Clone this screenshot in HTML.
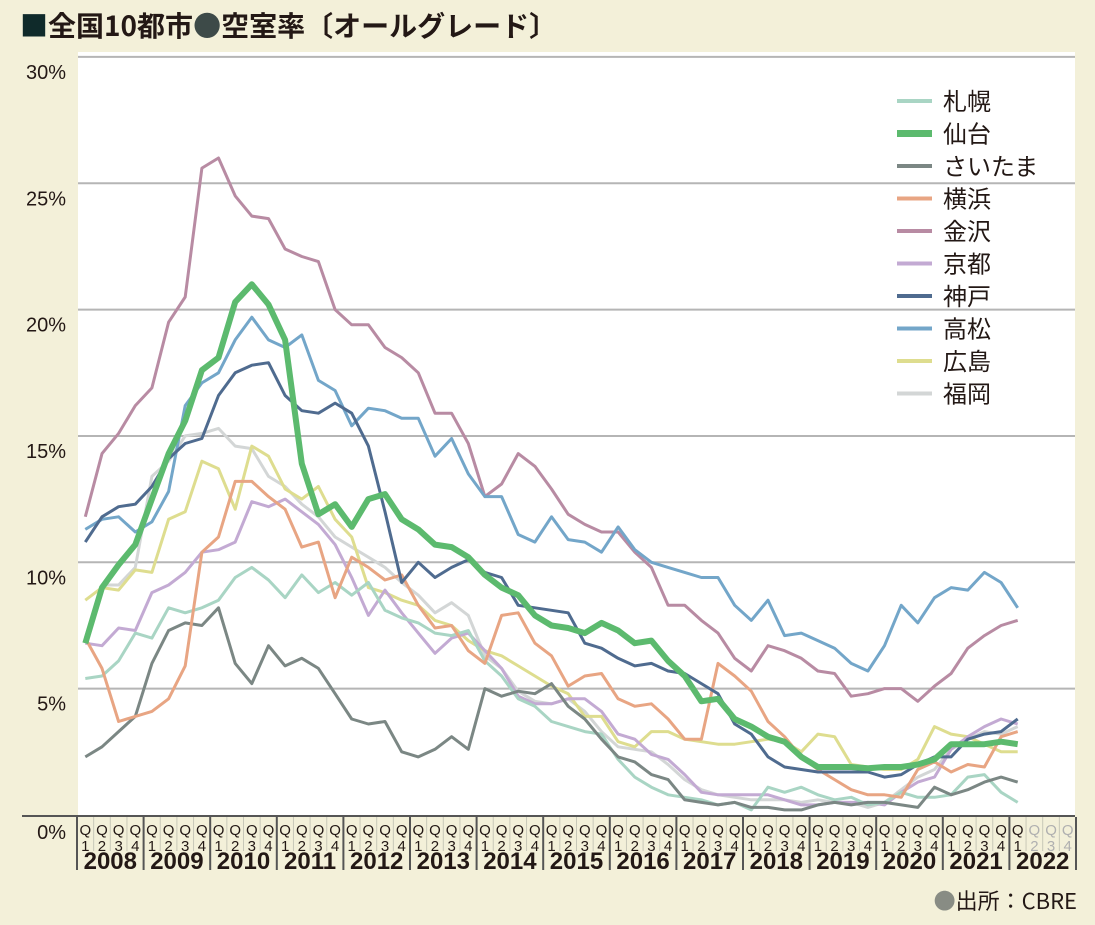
<!DOCTYPE html>
<html><head><meta charset="utf-8">
<style>
body{margin:0;background:#f3f0d9;font-family:"Liberation Sans","Noto Sans CJK JP",sans-serif;}
#wrap{position:relative;width:1095px;height:925px;overflow:hidden;background:#f3f0d9;}
</style></head>
<body>
<div id="wrap">
<svg id="chart" width="1095" height="925" xmlns="http://www.w3.org/2000/svg"></svg>
</div>
<script>
const years=["2008","2009","2010","2011","2012","2013","2014","2015","2016","2017","2018","2019","2020","2021","2022"];
const yTicks=[0,5,10,15,20,25,30];
const cityNames=["札幌","仙台","さいたま","横浜","金沢","京都","神戸","高松","広島","福岡"];
const sapporo=[5.4,5.5,6.1,7.2,7.0,8.2,8.0,8.2,8.5,9.4,9.8,9.3,8.6,9.5,8.8,9.2,8.7,9.2,8.1,7.8,7.6,7.2,7.1,7.3,6.1,5.5,4.6,4.3,3.7,3.5,3.3,3.2,2.2,1.5,1.1,0.8,0.7,0.6,0.4,0.5,0.2,1.1,0.9,1.1,0.8,0.6,0.7,0.4,0.5,0.9,0.7,0.7,0.8,1.5,1.6,0.9,0.5];
const sendai=[6.8,9.0,9.9,10.7,12.5,14.3,15.6,17.6,18.1,20.3,21.0,20.2,18.8,13.9,11.9,12.3,11.4,12.5,12.7,11.7,11.3,10.7,10.6,10.2,9.5,9.0,8.7,7.9,7.5,7.4,7.2,7.6,7.3,6.8,6.9,6.1,5.5,4.5,4.6,3.8,3.5,3.1,2.9,2.3,1.9,1.9,1.9,1.85,1.9,1.9,2.0,2.2,2.8,2.8,2.8,2.9,2.8];
const saitama=[2.3,2.7,3.3,3.9,6.0,7.3,7.6,7.5,8.2,6.0,5.2,6.7,5.9,6.2,5.8,4.8,3.8,3.6,3.7,2.5,2.3,2.6,3.1,2.6,5.0,4.7,4.9,4.8,5.2,4.3,3.8,3.0,2.3,2.1,1.6,1.4,0.6,0.5,0.4,0.5,0.3,0.3,0.2,0.2,0.4,0.5,0.4,0.5,0.5,0.4,0.3,1.1,0.8,1.0,1.3,1.5,1.3];
const yokohama=[7.0,5.8,3.7,3.9,4.1,4.6,5.9,10.4,11.0,13.2,13.2,12.6,12.1,10.6,10.8,8.6,10.2,9.8,9.3,9.5,8.3,7.4,7.5,6.5,6.0,7.9,8.0,6.8,6.3,5.1,5.5,5.6,4.6,4.3,4.4,3.8,3.0,3.0,6.0,5.5,4.9,3.7,3.1,2.3,1.8,1.4,1.0,0.8,0.8,0.7,1.8,2.1,1.7,2.0,1.9,3.1,3.3];
const kanazawa=[11.8,14.3,15.1,16.2,16.9,19.5,20.5,25.6,26.0,24.5,23.7,23.6,22.4,22.1,21.9,20.0,19.4,19.4,18.5,18.1,17.5,15.9,15.9,14.7,12.6,13.1,14.3,13.8,12.9,11.9,11.5,11.2,11.2,10.4,9.8,8.3,8.3,7.7,7.2,6.2,5.7,6.7,6.5,6.2,5.7,5.6,4.7,4.8,5.0,5.0,4.5,5.1,5.6,6.6,7.1,7.5,7.7];
const kyoto=[6.8,6.7,7.4,7.3,8.8,9.1,9.6,10.4,10.5,10.8,12.4,12.2,12.5,12.0,11.5,10.7,9.4,7.9,8.9,8.0,7.2,6.4,7.0,7.2,6.5,5.8,4.7,4.4,4.4,4.6,4.6,4.1,3.2,3.0,2.4,2.2,1.6,0.9,0.8,0.8,0.8,0.8,0.6,0.4,0.4,0.5,0.5,0.5,0.4,0.9,1.3,1.5,2.6,3.1,3.5,3.8,3.6];
const kobe=[10.8,11.8,12.2,12.3,13.0,14.1,14.7,14.9,16.6,17.5,17.8,17.9,16.6,16.0,15.9,16.3,15.9,14.6,12.0,9.2,10.0,9.4,9.8,10.1,9.6,9.4,8.3,8.2,8.1,8.0,6.8,6.6,6.2,5.9,6.0,5.7,5.6,5.2,4.8,3.6,3.2,2.3,1.9,1.8,1.7,1.7,1.7,1.7,1.5,1.6,2.0,2.3,2.3,3.0,3.2,3.3,3.8];
const takamatsu=[11.3,11.7,11.8,11.2,11.6,12.8,16.2,17.1,17.5,18.8,19.7,18.8,18.5,19.0,17.2,16.8,15.4,16.1,16.0,15.7,15.7,14.2,14.9,13.5,12.6,12.6,11.1,10.8,11.8,10.9,10.8,10.4,11.4,10.5,10.0,9.8,9.6,9.4,9.4,8.3,7.7,8.5,7.1,7.2,6.9,6.6,6.0,5.7,6.7,8.3,7.6,8.6,9.0,8.9,9.6,9.2,8.2];
const hiroshima=[8.5,9.0,8.9,9.7,9.6,11.7,12.0,14.0,13.7,12.1,14.6,14.2,12.9,12.5,13.0,11.7,11.0,9.0,8.8,8.5,8.3,7.7,7.5,6.9,6.5,6.3,5.9,5.5,5.1,4.8,3.9,3.9,2.9,2.7,3.3,3.3,3.0,2.9,2.8,2.8,2.9,3.0,2.9,2.5,3.2,3.1,2.0,1.9,1.8,1.8,2.2,3.5,3.2,3.1,2.8,2.5,2.5];
const fukuoka=[7.0,9.1,9.1,9.8,13.4,14.0,15.0,15.1,15.3,14.6,14.5,13.4,13.0,12.3,11.8,11.0,10.6,10.2,9.8,9.2,8.7,8.0,8.4,7.9,6.3,5.8,4.9,4.5,4.4,4.6,4.1,3.3,2.7,2.6,2.5,2.0,1.4,1.0,0.8,0.7,0.6,0.6,0.6,0.5,0.6,0.5,0.5,0.3,0.5,1.0,1.5,1.8,2.6,3.0,3.3,3.2,3.5];

const series=[sapporo,sendai,saitama,yokohama,kanazawa,kyoto,kobe,takamatsu,hiroshima,fukuoka];
const colors=["#a9d5c4","#5cba6e","#7b8784","#e8a583","#b88ba3","#c3aad3","#4f6b8f","#73a6c9","#dedd8f","#d3d6d6"];
const slugs=["sapporo","sendai","saitama","yokohama","kanazawa","kyoto","kobe","takamatsu","hiroshima","fukuoka"];
const drawOrder=[9,8,5,0,2,3,4,7,6,1];

const NS="http://www.w3.org/2000/svg";
const svg=document.getElementById('chart');
const X0=77, QW=16.65, Y0=815, PPU=25.27;
const x=i=>X0+QW/2+QW*i;
const y=v=>Y0-v*PPU;
function mk(tag,attrs,parent){const e=document.createElementNS(NS,tag);for(const k in attrs)e.setAttribute(k,attrs[k]);(parent||svg).appendChild(e);return e;}
const CJK='"Noto Sans CJK JP",sans-serif';

// title
let t=mk('text',{x:20,y:36,'font-size':28,'font-weight':'bold',fill:'#231815','font-family':'"Noto Sans CJK JP","Liberation Sans",sans-serif'});


t.innerHTML='<tspan fill="#0f2a2a">■</tspan>全国10都市<tspan fill="#3d4a48">●</tspan>空室率〔オールグレード〕';

// plot bg
let bg=mk('rect',{x:78,y:52,width:997,height:764,fill:'#ffffff'});



// grid & y labels
yTicks.forEach(v=>{
  if(v>0){let g=mk('line',{x1:78,x2:1075,y1:y(v),y2:y(v),stroke:'#b5b5b5','stroke-width':2});
  
  }
  let l=mk('text',{x:66,y:y(v)+(v==0?24:22),'font-size':20,'text-anchor':'end',fill:'#231815'});
  
  
  l.textContent=v+'%';
});
let ax=mk('line',{x1:22,x2:1075,y1:816,y2:816,stroke:'#555','stroke-width':2});



// x axis quarters
for(let i=0;i<60;i++){
  const cx=x(i);const fut=i>56;
  const col=fut?'#b0b0b0':'#231815';
  let q=mk('text',{x:cx,y:835,'font-size':15,'text-anchor':'middle',fill:col});
  
  
  q.textContent='Q';
  let n=mk('text',{x:cx,y:851,'font-size':15,'text-anchor':'middle',fill:col});
  
  
  n.textContent=(i%4)+1;
  if(i%4!=0){let s=mk('line',{x1:X0+QW*i,x2:X0+QW*i,y1:817,y2:851,stroke:'#c8c8b8','stroke-width':1});
  
  }
}
years.forEach((yr,k)=>{
  const lx=X0+QW*4*k;
  let d=mk('line',{x1:lx,x2:lx,y1:817,y2:870,stroke:'#555','stroke-width':2});
  
  
  let yl=mk('text',{x:lx+QW*2,y:869,'font-size':24,'font-weight':'bold','text-anchor':'middle',fill:'#231815'});
  
  
  yl.textContent=yr;
});
let ed=mk('line',{x1:X0+QW*60,x2:X0+QW*60,y1:817,y2:870,stroke:'#555','stroke-width':2});



// series
drawOrder.forEach(si=>{
  const d=series[si].map((v,i)=>(i?'L':'M')+x(i).toFixed(1)+','+y(v).toFixed(1)).join('');
  let p=mk('path',{d:d,fill:'none',stroke:colors[si],'stroke-width':si==1?6:3,'stroke-linejoin':'round'});
  
  
});

// legend
cityNames.forEach((nm,i)=>{
  const ly=101+i*32.5;
  let g=mk('g',{});
  
  
  mk('line',{x1:897,x2:932,y1:ly,y2:ly,stroke:colors[i],'stroke-width':i==1?7:4},g);
  let tx=mk('text',{x:943,y:ly+9,'font-size':24,fill:'#231815'},g);
  tx.textContent=nm;
});

// source
let src=mk('text',{x:1077,y:909,'font-size':22,'text-anchor':'end',fill:'#231815','font-family':'"Noto Sans CJK JP","Liberation Sans",sans-serif'});


src.innerHTML='<tspan fill="#888c84">●</tspan>出所：CBRE';
</script>
</body></html>
